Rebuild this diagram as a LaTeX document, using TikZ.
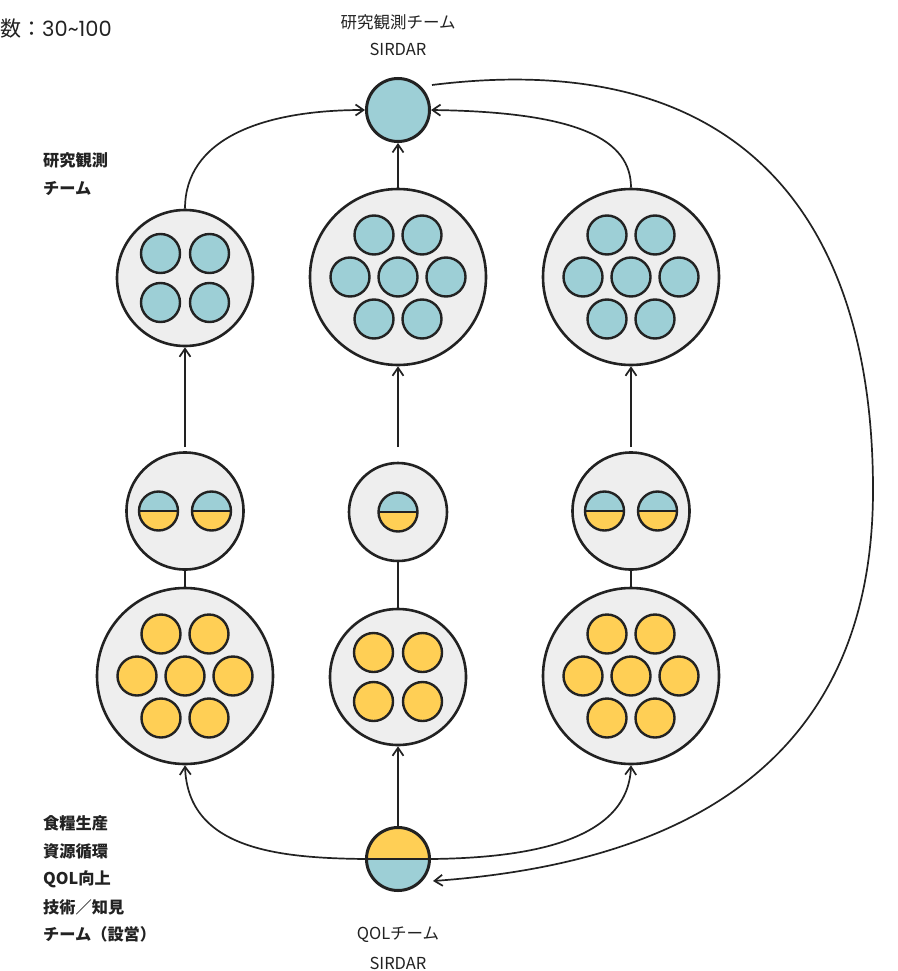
\documentclass[tikz,border=0pt]{standalone}
\usepackage{fontspec}
\setmainfont{Noto Sans CJK JP}
\newfontfamily\latfont{Poppins}
\usetikzlibrary{arrows.meta}
\definecolor{cBlue}{HTML}{9DCFD6}
\definecolor{cYel}{HTML}{FFCF55}
\definecolor{cGray}{HTML}{EEEEEE}
\definecolor{cLine}{HTML}{222222}
\tikzset{
  grp/.style={circle,draw=cLine,line width=2.6pt,fill=cGray,inner sep=0pt,minimum size=#1},
  bcirc/.style={circle,draw=cLine,line width=2.4pt,fill=cBlue,inner sep=0pt,minimum size=39pt},
  ycirc/.style={circle,draw=cLine,line width=2.4pt,fill=cYel,inner sep=0pt,minimum size=39pt},
  halfby/.style={circle,draw=cLine,line width=2.4pt,fill=cBlue,inner sep=0pt,minimum size=#1,
    path picture={\fill[cYel] (path picture bounding box.west) rectangle (path picture bounding box.south east);
      \draw[cLine,line width=2.4pt] (path picture bounding box.west) -- (path picture bounding box.east);}},
  halfyb/.style={circle,draw=cLine,line width=3pt,fill=cYel,inner sep=0pt,minimum size=#1,
    path picture={\fill[cBlue] (path picture bounding box.west) rectangle (path picture bounding box.south east);
      \draw[cLine,line width=2.6pt] (path picture bounding box.west) -- (path picture bounding box.east);}},
  conn/.style={draw=cLine,line width=1.7pt},
  arr/.style={conn,-{Straight Barb[length=8pt,width=11pt]}},
  txt/.style={inner sep=0pt,text=cLine,font=\fontsize{16.5}{20}\selectfont},
  lbl/.style={inner sep=0pt,anchor=west,text=cLine,font=\bfseries\fontsize{16.2}{20}\selectfont},
}
\begin{document}
\begin{tikzpicture}[x=1pt,y=1pt]
\useasboundingbox[fill=white] (0,0) rectangle (897,-971);

% texts
\node[inner sep=0pt,anchor=west,text=cLine,font=\fontsize{21}{24}\selectfont] (cnt) at (0,-29) {数：{\latfont 30\textasciitilde100}};
\node[txt] (ttop1) at (398,-22) {研究観測チーム};
\node[txt] (ttop2) at (398,-49) {SIRDAR};
\node[txt] (tbot1) at (398,-935) {QOLチーム};
\node[txt] (tbot2) at (398,-963) {SIRDAR};
\node[lbl] (lab1) at (43,-160) {研究観測};
\node[lbl] (lab2) at (43,-188) {チーム};
\node[lbl] (lab3) at (43,-823) {食糧生産};
\node[lbl] (lab4) at (43,-851) {資源循環};
\node[lbl] (lab5) at (43,-879) {QOL向上};
\node[lbl] (lab6) at (43,-907) {技術／知見};
\node[lbl] (lab7) at (43,-934) {チーム（設営）};

% main nodes
\node[circle,draw=cLine,line width=3pt,fill=cBlue,inner sep=0pt,minimum size=63pt] (T) at (398,-110) {};
\node[grp=136pt] (L1) at (185,-278) {};
\node[grp=176pt] (C1) at (398,-277) {};
\node[grp=176pt] (R1) at (631,-277) {};
\node[grp=117pt] (L2) at (185,-511) {};
\node[grp=98pt]  (C2) at (398,-512) {};
\node[grp=117pt] (R2) at (631,-511) {};
\node[grp=176pt] (L3) at (185,-676) {};
\node[grp=136pt] (C3) at (398,-677) {};
\node[grp=176pt] (R3) at (631,-676) {};
\node[halfyb=63pt] (Q) at (398,-859) {};

% inner circles
\foreach \dx/\dy [count=\i] in {-24.5/24.5,24.5/24.5,-24.5/-24.5,24.5/-24.5}{
  \node[bcirc,xshift=\dx pt,yshift=\dy pt] (L1-\i) at (L1) {};
  \node[ycirc,xshift=\dx pt,yshift=\dy pt] (C3-\i) at (C3) {};
}
\foreach \dx/\dy [count=\i] in {-24/42,24/42,-48/0,0/0,48/0,-24/-42,24/-42}{
  \node[bcirc,xshift=\dx pt,yshift=\dy pt] (C1-\i) at (C1) {};
  \node[bcirc,xshift=\dx pt,yshift=\dy pt] (R1-\i) at (R1) {};
  \node[ycirc,xshift=\dx pt,yshift=\dy pt] (L3-\i) at (L3) {};
  \node[ycirc,xshift=\dx pt,yshift=\dy pt] (R3-\i) at (R3) {};
}
\node[halfby=39pt,xshift=-26.5pt] (L2-1) at (L2) {};
\node[halfby=39pt,xshift=26.5pt] (L2-2) at (L2) {};
\node[halfby=39pt] (C2-1) at (C2) {};
\node[halfby=39pt,xshift=-26.5pt] (R2-1) at (R2) {};
\node[halfby=39pt,xshift=26.5pt] (R2-2) at (R2) {};

% connectors
\coordinate (u1) at (185,-447);
\coordinate (u2) at (398,-447);
\coordinate (u3) at (631,-447);
\coordinate (bs) at (432,-85);
\coordinate (bm) at (873,-490);
\coordinate (be) at (433,-881);

\draw[arr] (L1.north) .. controls (185,-140) and (260,-110) .. (T.west);
\draw[arr] (C1.north) -- (T.south);
\draw[arr] (R1.north) .. controls (631,-140) and (580,-112) .. (T.east);
\draw[arr] (bs) .. controls (752,-45) and (873,-230) .. (bm)
               .. controls (873,-725) and (732,-859.5) .. (be);

\draw[arr] (u1) -- (L1.south);
\draw[arr] (u2) -- (C1.south);
\draw[arr] (u3) -- (R1.south);

\draw[conn] (L2.south) -- (L3.north);
\draw[conn] (C2.south) -- (C3.north);
\draw[conn] (R2.south) -- (R3.north);

\draw[arr] (Q.west) .. controls (280,-858) and (188,-850) .. (L3.south);
\draw[arr] (Q.north) -- (C3.south);
\draw[arr] (Q.east) .. controls (517,-858) and (628,-845) .. (R3.south);
\end{tikzpicture}
\end{document}
